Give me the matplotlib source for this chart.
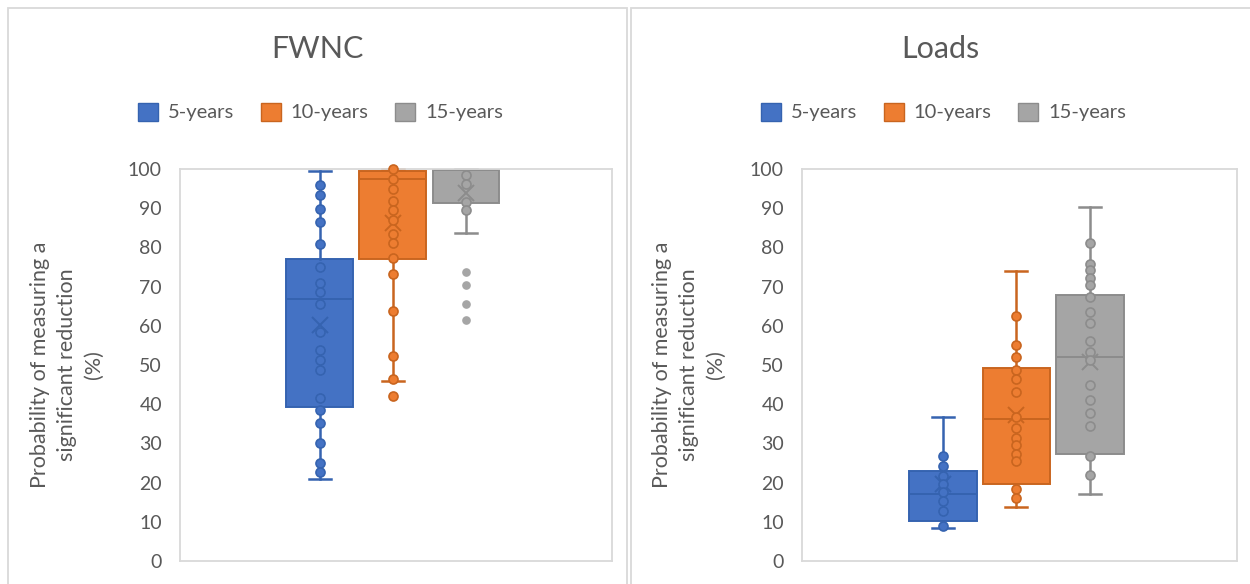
import matplotlib
matplotlib.use("Agg")
import matplotlib.pyplot as plt
from matplotlib.patches import Rectangle, Patch

# ---------------- data ----------------
periods = ["5-years", "10-years", "15-years"]

# FWNC box statistics (%)
fwnc_q1 = [39.2, 77.0, 91.2]
fwnc_med = [66.8, 97.4, 99.7]
fwnc_q3 = [77.0, 99.5, 100.0]
fwnc_lo = [20.9, 46.0, 83.7]
fwnc_hi = [99.5, 100.0, 100.0]
fwnc_mean = [60.3, 86.1, 93.8]

# FWNC individual results
fwnc_pts_5 = [95.9, 93.4, 89.8, 86.4, 80.8, 74.9, 70.8, 68.5, 65.5, 58.4,
              53.7, 51.2, 48.8, 41.6, 38.4, 35.2, 30.1, 25.0, 22.6]
fwnc_pts_10 = [100.0, 97.4, 95.0, 91.9, 89.5, 87.1, 83.4, 81.0, 77.3, 73.1,
               63.7, 52.4, 46.5, 42.0]
fwnc_pts_15 = [98.5, 96.2, 91.6, 89.5]
fwnc_out_15 = [73.7, 70.5, 65.6, 61.6]

# Loads box statistics (%)
loads_q1 = [10.2, 19.6, 27.3]
loads_med = [17.1, 36.1, 52.0]
loads_q3 = [23.0, 49.2, 67.8]
loads_lo = [8.3, 13.8, 17.0]
loads_hi = [36.7, 73.9, 90.2]
loads_mean = [19.6, 37.3, 50.7]

# Loads individual results
loads_pts_5 = [26.9, 24.3, 21.7, 19.6, 17.5, 15.3, 12.8, 9.0]
loads_pts_10 = [62.4, 55.2, 52.0, 48.6, 46.5, 43.2, 36.7, 33.9, 31.4, 29.7,
                27.3, 25.4, 18.3, 16.0]
loads_pts_15 = [81.0, 75.7, 74.2, 72.3, 70.3, 67.3, 63.5, 60.8, 56.1, 53.3,
                51.2, 45.0, 41.1, 37.7, 34.5, 26.9, 22.0]

y_ticks = list(range(0, 101, 10))
y_label = "Probability of measuring a\nsignificant reduction\n(%)"

# ---------------- style ----------------
fills = ["#4472C4", "#ED7D31", "#A5A5A5"]
edges = ["#3563B0", "#C9651F", "#8C8C8C"]
text_col = "#595959"
frame_col = "#D9D9D9"
FONT = "Lato"
plt.rcParams["font.family"] = [FONT, "DejaVu Sans"]

W, H = 1250, 584
fig = plt.figure(figsize=(W / 100, H / 100), dpi=100)
fig.patch.set_facecolor("white")


def fx(px):
    return px / W


def fy(py):
    return 1 - py / H


# chart-area frames
for x0, x1 in [(8, 627), (630.5, 1252)]:
    fig.patches.append(Rectangle((fx(x0), fy(590)), fx(x1 - x0), (590 - 8) / H,
                                 transform=fig.transFigure, fill=False,
                                 edgecolor=frame_col, linewidth=1.3))


def draw_panel(ax_left_px, ax_width_px, title, title_cx, q1, med, q3, lo, hi,
               mean, pts, outs):
    ax = fig.add_axes([fx(ax_left_px), fy(561), fx(ax_width_px), (561 - 169) / H])
    positions = [1, 2, 3]
    for i in range(3):
        stats = dict(q1=q1[i], med=med[i], q3=q3[i], whislo=lo[i],
                     whishi=hi[i], mean=mean[i], fliers=[])
        ax.bxp([stats], positions=[positions[i]], widths=0.917,
               patch_artist=True, showmeans=True, showfliers=False,
               capwidths=0.30,
               boxprops=dict(facecolor=fills[i], edgecolor=edges[i], linewidth=1.4),
               medianprops=dict(color=edges[i], linewidth=1.4),
               whiskerprops=dict(color=edges[i], linewidth=1.8),
               capprops=dict(color=edges[i], linewidth=1.8),
               meanprops=dict(marker="x", markeredgecolor=edges[i],
                              markersize=12, markeredgewidth=1.4),
               manage_ticks=False)
        for a in ax.lines[-7:]:
            a.set_clip_on(False)
        ax.plot([positions[i]] * len(pts[i]), pts[i], linestyle="none",
                marker="o", markersize=6.5, markerfacecolor=fills[i],
                markeredgecolor=edges[i], markeredgewidth=1.2, clip_on=False,
                zorder=4)
        if outs[i]:
            ax.plot([positions[i]] * len(outs[i]), outs[i], linestyle="none",
                    marker="o", markersize=5.2, markerfacecolor=fills[i],
                    markeredgecolor=fills[i], clip_on=False, zorder=4)
    ax.set_xlim(-0.917, 5.0)
    ax.set_ylim(0, 100)
    ax.set_yticks(y_ticks)
    ax.set_xticks([])
    ax.tick_params(axis="y", length=0, pad=13, labelsize=14, labelcolor=text_col)
    for s in ax.spines.values():
        s.set_color(frame_col)
        s.set_linewidth(1.3)
    ax.set_ylabel(y_label, fontsize=15.5, color=text_col, linespacing=1.45,
                  va="center", ha="center")
    ax.yaxis.set_label_coords(-(113 / ax_width_px), 0.5)
    fig.text(fx(title_cx), fy(58.3), title, ha="center", va="baseline",
             fontsize=22, color=text_col)
    handles = [Patch(facecolor=fills[i], edgecolor=edges[i], linewidth=1.0)
               for i in range(3)]
    fig.legend(handles, periods, loc="center", ncol=3, frameon=False,
               bbox_to_anchor=(fx(title_cx + 3), fy(112)),
               fontsize=14.5, labelcolor=text_col, handlelength=1.0,
               handleheight=1.0, handletextpad=0.5, columnspacing=1.3)
    return ax


draw_panel(180, 432, "FWNC", 317.5, fwnc_q1, fwnc_med, fwnc_q3, fwnc_lo,
           fwnc_hi, fwnc_mean, [fwnc_pts_5, fwnc_pts_10, fwnc_pts_15],
           [[], [], fwnc_out_15])
draw_panel(802, 435, "Loads", 940.5, loads_q1, loads_med, loads_q3, loads_lo,
           loads_hi, loads_mean, [loads_pts_5, loads_pts_10, loads_pts_15],
           [[], [], []])

fig.savefig("out.png", dpi=100)
